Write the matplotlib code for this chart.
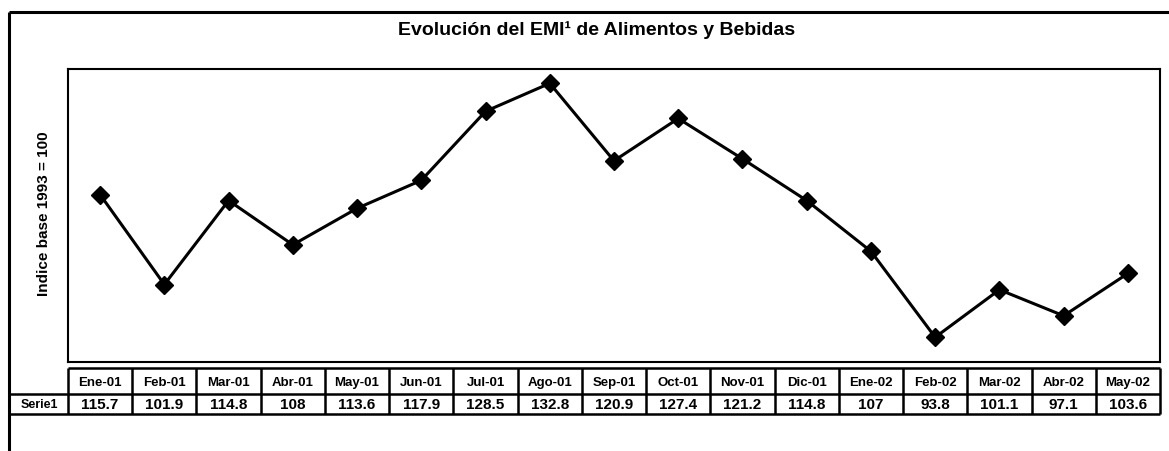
import matplotlib
matplotlib.use("Agg")
import matplotlib.pyplot as plt

# ---- data ----
months = ["Ene-01", "Feb-01", "Mar-01", "Abr-01", "May-01", "Jun-01", "Jul-01",
          "Ago-01", "Sep-01", "Oct-01", "Nov-01", "Dic-01", "Ene-02", "Feb-02",
          "Mar-02", "Abr-02", "May-02"]
serie1 = [115.7, 101.9, 114.8, 108, 113.6, 117.9, 128.5, 132.8, 120.9, 127.4,
          121.2, 114.8, 107, 93.8, 101.1, 97.1, 103.6]
series_name = "Serie1"
title = "Evolución del EMI¹ de Alimentos y Bebidas"
ylabel = "Indice base 1993 = 100"
note_line1 = "Ene-May  02 / Ene-May  01:"
note_line2 = "- 9,6%"

plt.rcParams['font.family'] = ['Liberation Sans', 'DejaVu Sans']

W, H = 1169, 451
fig = plt.figure(figsize=(W / 100, H / 100), dpi=100)

def fx(px):
    return px / W

def fy(py):
    return 1 - py / H

# plot area (pixels)
L, R, T, B = 68, 1160, 69, 362
ax = fig.add_axes([fx(L), fy(B), fx(R) - fx(L), fy(T) - fy(B)])
n = len(months)
ax.plot(range(n), serie1, color='black', lw=2.2, marker='D', ms=9,
        mfc='black', mec='black', solid_joinstyle='miter')
ax.set_xlim(-0.5, n - 0.5)
ax.set_ylim(90, 135)
ax.set_xticks([])
ax.set_yticks([])
for s in ax.spines.values():
    s.set_linewidth(1.5)
    s.set_color('black')

# overlay in pixel coordinates for frame, table and texts
ov = fig.add_axes([0, 0, 1, 1], zorder=-1)
ov.set_xlim(0, W)
ov.set_ylim(H, 0)
ov.axis('off')

# outer frame (top and left only, runs off the image)
ov.plot([9, W + 5], [12, 12], color='black', lw=2.2, solid_capstyle='butt')
ov.plot([9, 9], [12, H + 5], color='black', lw=2.2, solid_capstyle='butt')

# title
ov.text(597, 30, title, ha='center', va='center', fontsize=14,
        fontweight='bold')

# y label
ov.text(44, 214, ylabel, ha='center', va='center', rotation=90,
        fontsize=11, fontweight='bold')

# note
ov.text(936, 114, note_line1, ha='center', va='center', fontsize=10.5,
        fontweight='bold')
ov.text(943, 131, note_line2, ha='center', va='center', fontsize=10.5,
        fontweight='bold')

# table
h_top, h_mid, h_bot = 368, 394, 414
cw = (R - L) / n
lw_t = 1.8
for i, (m, v) in enumerate(zip(months, serie1)):
    x0 = L + i * cw
    x1 = x0 + cw
    xc = (x0 + x1) / 2
    ov.text(xc, (h_top + h_mid) / 2 + 2, m, ha='center', va='center',
            fontsize=9.5, fontweight='bold')
    ov.text(xc, (h_mid + h_bot) / 2 + 1, f"{v:g}", ha='center', va='center',
            fontsize=11, fontweight='bold')
# grid lines
ov.plot([L, R], [h_top, h_top], color='black', lw=lw_t, solid_capstyle='butt')
ov.plot([9, R], [h_mid, h_mid], color='black', lw=lw_t, solid_capstyle='butt')
ov.plot([9, R], [h_bot, h_bot], color='black', lw=lw_t, solid_capstyle='butt')
for i in range(n + 1):
    x = L + i * cw
    ov.plot([x, x], [h_top, h_bot], color='black', lw=lw_t,
            solid_capstyle='butt')
ov.text((9 + L) / 2 + 1, (h_mid + h_bot) / 2 + 1, series_name, ha='center',
        va='center', fontsize=9, fontweight='bold')

fig.savefig("out.png", dpi=100)
